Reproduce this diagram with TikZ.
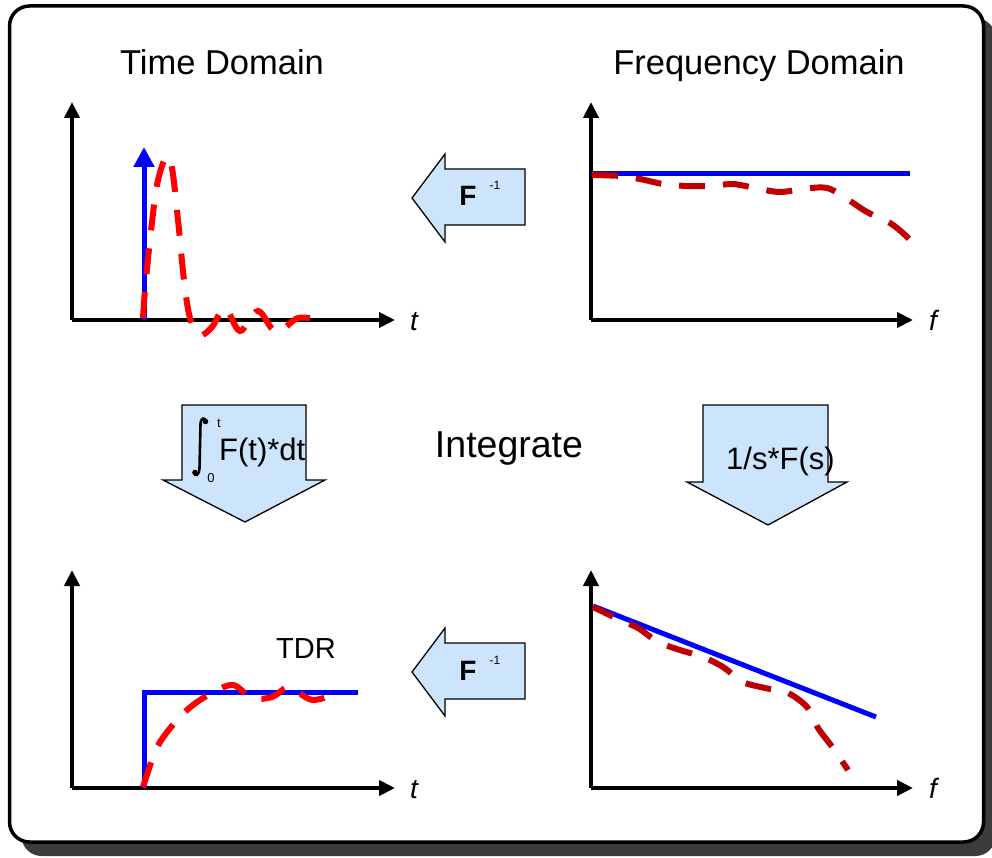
\documentclass[tikz,border=0pt]{standalone}
\usepackage{fontspec}
\setmainfont{Liberation Sans}
\usetikzlibrary{arrows.meta}
\definecolor{panelblue}{RGB}{204,228,252}
\definecolor{darkred}{RGB}{192,0,0}
\definecolor{shadowgray}{RGB}{60,60,60}
\tikzset{
  axis/.style={line width=4pt,-{Triangle[length=16pt,width=15pt]}},
  ideal/.style={blue,line width=5pt},
  measured/.style={line width=6pt,dash pattern=on 26pt off 18pt},
  blockarrow/.style={draw=black,line width=1.3pt,fill=panelblue,line join=miter},
  title/.style={font=\fontsize{34.5}{40}\selectfont,anchor=base},
  axlabel/.style={font=\fontsize{28}{32}\selectfont\itshape,anchor=base},
  optext/.style={font=\fontsize{31}{36}\selectfont,anchor=base},
  smalltext/.style={font=\fontsize{13}{15}\selectfont,inner sep=0pt},
}
\begin{document}
\begin{tikzpicture}[x=1pt,y=-1pt]
\useasboundingbox (0,0) rectangle (992,858);
\clip (0,0) rectangle (992,858);

% drop shadow and framed panel
\fill[shadowgray,rounded corners=20pt] (21.5,18) rectangle (995.5,856);
\draw[line width=3.5pt,rounded corners=20pt,fill=white] (9.5,6) rectangle (983.5,842);

% headings
\node[title] (tdom) at (222,75) {Time Domain};
\node[title] (fdom) at (759,75) {Frequency Domain};

% ---- impulse response (time domain) ----
\draw[axis] (72,320) -- (72,102);
\draw[axis] (72,320) -- (395,320);
\node[axlabel] (t1) at (414,330) {t};
\draw[ideal,-{Triangle[length=20pt,width=20pt]}] (144,320) -- (144,147);
\draw[measured,red] plot[smooth,tension=0.55] coordinates
  {(143,318) (145,290) (150,240) (157,185) (166,157) (172,168) (178,220) (184,280) (190,318) (200,335) (212,327) (225,308) (240,331) (258,311) (276,332) (298,318) (318,320)};

% ---- transfer function (frequency domain) ----
\draw[axis] (591,320) -- (591,102);
\draw[axis] (591,320) -- (913,320);
\node[axlabel] (f1) at (933,330) {f};
\draw[ideal] (591,174) -- (910,174);
\draw[measured,darkred] plot[smooth,tension=0.55] coordinates
  {(592,175) (620,176) (640,179) (663,184) (687,186) (713,186) (733,184) (760,189) (780,192) (803,189) (827,188) (847,199) (867,212) (890,223) (905,235) (920,250)};

% ---- step response (time domain) ----
\draw[axis] (72,788) -- (72,570);
\draw[axis] (72,788) -- (395,788);
\node[axlabel] (t2) at (414,798) {t};
\draw[ideal,line join=miter] (144,788) -- (144,692) -- (358,692);
\draw[measured,red] plot[smooth,tension=0.55] coordinates
  {(143,787) (152,760) (160,742) (177,720) (193,705) (212,693) (233,685) (252,698) (272,697) (287,687) (295,690) (313,700) (338,693)};
\node[font=\fontsize{29}{34}\selectfont,anchor=base] (tdr) at (306,658) {TDR};

% ---- integrated spectrum (frequency domain) ----
\draw[axis] (591,788) -- (591,570);
\draw[axis] (591,788) -- (913,788);
\node[axlabel] (f2) at (933,798) {f};
\draw[ideal] (593,606) -- (876,717);
\draw[measured,darkred,dash phase=4pt] plot[smooth,tension=0.5] coordinates
  {(593,607) (620,620) (638,628) (658,642) (680,650) (703,657) (723,667) (743,682) (765,688) (788,693) (807,707) (818,728) (833,748) (848,770)};

% ---- inverse transform arrows ----
\draw[blockarrow] (412,198) -- (445,154) -- (445,169) -- (525,169) -- (525,225) -- (445,225) -- (445,242) -- cycle;
\node[font=\fontsize{28}{32}\selectfont\bfseries,anchor=base] (finv1) at (468,206) {F};
\node[font=\fontsize{12}{14}\selectfont,anchor=base] (exp1) at (495,190) {-1};

\draw[blockarrow] (412,672) -- (445,628) -- (445,643) -- (525,643) -- (525,699) -- (445,699) -- (445,716) -- cycle;
\node[font=\fontsize{28}{32}\selectfont\bfseries,anchor=base] (finv2) at (468,680) {F};
\node[font=\fontsize{12}{14}\selectfont,anchor=base] (exp2) at (495,664) {-1};

% ---- integration arrows ----
\draw[blockarrow] (182,405) -- (306,405) -- (306,480) -- (325,480) -- (245,522) -- (163,480) -- (182,480) -- cycle;
% integral sign: a thin stroke with round terminals
\draw[line width=2.6pt] (206.5,422) .. controls (205,417) and (201,417) .. (200.5,424)
  -- (199.5,468) .. controls (199,476) and (195,477) .. (194,472);
\fill (205.5,421.5) circle (2.8pt);
\fill (195,472.5) circle (2.8pt);
\node[smalltext] (uplim) at (219,423) {t};
\node[smalltext] (lowlim) at (211,478) {0};
\node[optext,anchor=base west,inner sep=0pt] (ftdt) at (219,460) {F(t)*dt};

\draw[blockarrow] (703,405) -- (828,405) -- (828,482) -- (847,482) -- (768,525) -- (687,482) -- (703,482) -- cycle;
\node[optext,anchor=base west,inner sep=0pt] (fs) at (726,469) {1/s*F(s)};

\node[font=\fontsize{37.5}{44}\selectfont,anchor=base] (integ) at (509,457) {Integrate};
\end{tikzpicture}
\end{document}
